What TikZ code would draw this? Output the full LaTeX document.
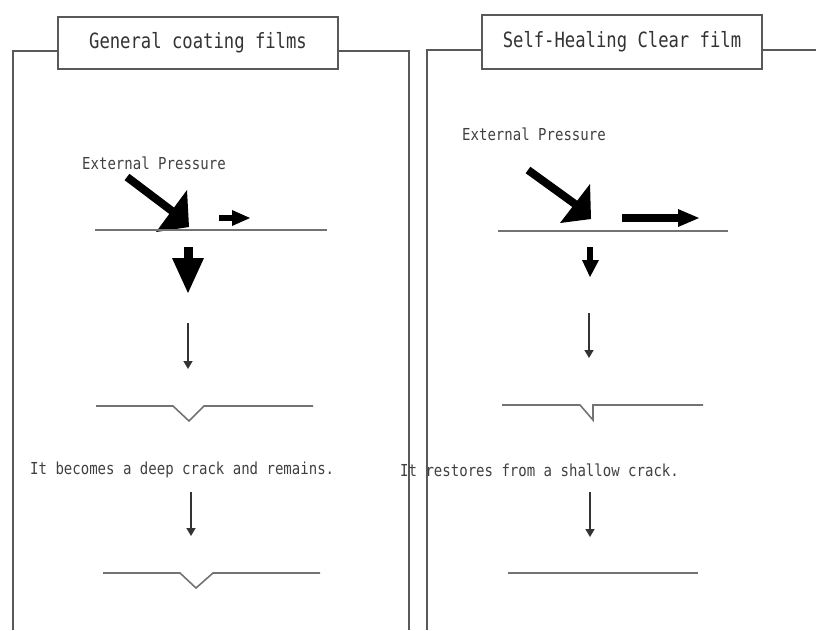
\documentclass[tikz,border=0pt]{standalone}
\usepackage{fontspec}
\newfontfamily\gothic[FakeStretch=0.85]{DejaVu Sans Mono}
\newfontfamily\gothictitle[FakeStretch=0.82]{DejaVu Sans Mono}
\usetikzlibrary{arrows.meta}
\begin{document}
\begin{tikzpicture}[x=1pt,y=-1pt,
  framel/.style={draw=black!65,line width=1.6pt},
  surface/.style={draw=black!55,line width=1.6pt},
  titlebox/.style={draw=black!65,line width=1.6pt,fill=white,minimum width=280pt,minimum height=52pt,font=\gothictitle\fontsize{21}{21}\selectfont,text=black!80},
  txt/.style={anchor=west,inner sep=0pt,font=\gothic\fontsize{16.5}{16.5}\selectfont,text=black!75},
  thinarrow/.style={draw=black!80,line width=1.5pt,-{Triangle[width=9pt,length=8pt]}},
  blackfill/.style={fill=black},
  shaft/.style={draw=black,line width=8pt}]
\useasboundingbox (0,0) rectangle (816,630);
% frames
\draw[framel] (58,51) -- (13,51) -- (13,630);
\draw[framel] (338,51) -- (409,51) -- (409,630);
\draw[framel] (482,50) -- (427,50) -- (427,630);
\draw[framel] (762,50) -- (816,50);
\node[titlebox] (t1) at (198,43) {General coating films};
\node[titlebox,minimum height=54pt] (t2) at (622,42) {Self-Healing Clear film};
% left panel
\node[txt] (ep1) at (82,163) {External Pressure};
\draw[shaft] (127,177) -- (176,214);
\fill[blackfill] (187,190) -- (156,232) -- (189,227) -- cycle;
\fill[blackfill] (219,215) rectangle (233,221);
\fill[blackfill] (232,210) -- (250,218) -- (232,226) -- cycle;
\draw[surface] (95,230) -- (327,230);
\fill[blackfill] (184,247) rectangle (193,259);
\fill[blackfill] (172,258) -- (204,258) -- (188,293) -- cycle;
\coordinate (a1s) at (188,323); \coordinate (a1e) at (188,369);
\draw[thinarrow] (a1s) -- (a1e);
\draw[surface] (96,406) -- (173,406) -- (189,421) -- (204,406) -- (313,406);
\node[txt] (c1) at (30,470) {It becomes a deep crack and remains.};
\coordinate (a2s) at (191,492); \coordinate (a2e) at (191,536);
\draw[thinarrow] (a2s) -- (a2e);
\draw[surface] (103,573) -- (180,573) -- (196,588) -- (213,573) -- (320,573);
% right panel
\node[txt] (ep2) at (462,134) {External Pressure};
\draw[shaft] (528,170) -- (575,204);
\fill[blackfill] (590,184) -- (560,223) -- (591,219) -- cycle;
\fill[blackfill] (622,214) rectangle (680,222);
\fill[blackfill] (678,209) -- (699,218) -- (678,227) -- cycle;
\draw[surface] (498,231) -- (728,231);
\fill[blackfill] (587,247) rectangle (593,261);
\fill[blackfill] (582,260) -- (599,260) -- (590,277) -- cycle;
\coordinate (b1s) at (589,313); \coordinate (b1e) at (589,358);
\draw[thinarrow] (b1s) -- (b1e);
\draw[surface] (502,405) -- (580,405) -- (593,420) -- (593,405) -- (703,405);
\node[txt] (c2) at (400,470) {It restores from a shallow crack.};
\coordinate (b2s) at (590,492); \coordinate (b2e) at (590,537);
\draw[thinarrow] (b2s) -- (b2e);
\draw[surface] (508,573) -- (698,573);
\end{tikzpicture}
\end{document}
